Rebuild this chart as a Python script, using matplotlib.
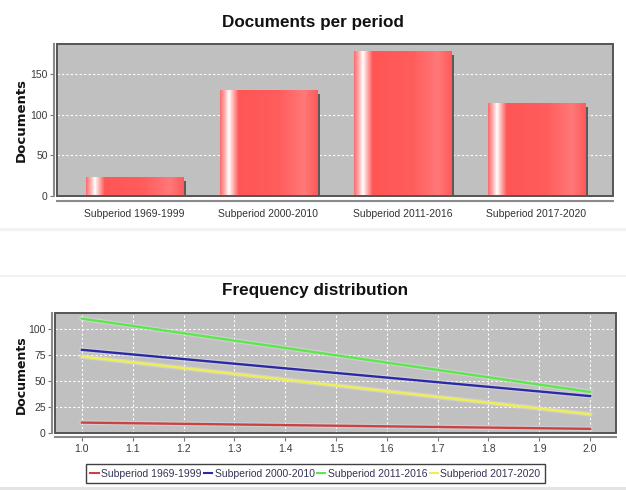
import numpy as np
import matplotlib
matplotlib.use('Agg')
import matplotlib.pyplot as plt
import matplotlib.transforms as mtransforms
import matplotlib.patheffects as pe
from matplotlib import font_manager as fm
from matplotlib.colors import LinearSegmentedColormap
from matplotlib.patches import Rectangle
from matplotlib.lines import Line2D

# ---------------- data ----------------
periods = ["Subperiod 1969-1999", "Subperiod 2000-2010",
           "Subperiod 2011-2016", "Subperiod 2017-2020"]
documents = [23, 131, 179, 114]
bar_yticks = [0, 50, 100, 150]

freq_x = [1.0, 2.0]
freq_1969_1999 = [10, 4]
freq_2000_2010 = [80, 35.5]
freq_2011_2016 = [110, 39.5]
freq_2017_2020 = [73.5, 18]
line_series = [freq_1969_1999, freq_2000_2010, freq_2011_2016, freq_2017_2020]
line_colors = ['#c84444', '#2a2aa8', '#5ce84c', '#eeee55']
line_xticks = [1.0, 1.1, 1.2, 1.3, 1.4, 1.5, 1.6, 1.7, 1.8, 1.9, 2.0]
line_yticks = [0, 25, 50, 75, 100]

# ---------------- fonts ----------------
names = {f.name for f in fm.fontManager.ttflist}
if 'Liberation Sans Narrow' in names:
    NARROW = 'Liberation Sans Narrow'
    tick_fs, title_fs = 9, 15
else:
    NARROW = 'Liberation Sans'
    tick_fs, title_fs = 7.5, 12.3

W, H = 626, 490
fig = plt.figure(figsize=(W / 100, H / 100), dpi=100)
fig.patch.set_facecolor('white')


def fx(px):
    return px / W


def fy(py):
    return 1 - py / H


def px2pt(p):
    return p * 72 / 100


# separators / background strips
fig.add_artist(Line2D([0, 1], [fy(229), fy(229)], transform=fig.transFigure,
                      color='#f2f2f2', lw=2))
fig.add_artist(Line2D([0, 1], [fy(276), fy(276)], transform=fig.transFigure,
                      color='#f0f0f0', lw=1.2))
fig.add_artist(Rectangle((0, 0), 1, 3.5 / H, transform=fig.transFigure,
                         color='#e4e4e4', lw=0))

# ---------------- top: bar chart ----------------
ax1 = fig.add_axes([fx(57), fy(196), (613 - 57) / W, (196 - 44) / H])
ax1.set_facecolor('#c0c0c0')
xpos = np.arange(len(periods))
bw = 0.724

shadow = ax1.bar(xpos, documents, width=bw, color='#5a5a5a', zorder=2)
off = mtransforms.ScaledTranslation(3 / 100, -4 / 100, fig.dpi_scale_trans)
for p in shadow:
    p.set_transform(ax1.transData + off)

bars = ax1.bar(xpos, documents, width=bw, color='#ff5a5a', zorder=3)
cmap = LinearSegmentedColormap.from_list('barg', [
    (0.0, '#ff6a6a'), (0.05, '#ffb4b4'), (0.09, '#ffffff'), (0.13, '#ffb8b8'),
    (0.19, '#ff5555'), (0.6, '#ff5d5d'), (0.86, '#ff7878'), (1.0, '#ff5a5a')])
grad = np.linspace(0, 1, 256).reshape(1, -1)
for b in bars:
    x0, y0, w, h = b.get_x(), b.get_y(), b.get_width(), b.get_height()
    im = ax1.imshow(grad, extent=(x0, x0 + w, y0, y0 + h), aspect='auto',
                    cmap=cmap, zorder=4, interpolation='bilinear')
    im.set_clip_path(b)

ax1.set_xlim((57 - 134.5) / 134, (613 - 134.5) / 134)
ax1.set_ylim(0, 187)
ax1.set_xticks(xpos, periods)
ax1.set_yticks(bar_yticks)
ax1.set_axisbelow(True)
ax1.yaxis.grid(True, color='white', linestyle=(0, (2, 2)), lw=0.8)
ax1.xaxis.grid(False)

# ---------------- bottom: line chart ----------------
ax2 = fig.add_axes([fx(55), fy(433), (616 - 55) / W, (433 - 313) / H])
ax2.set_facecolor('#c0c0c0')
handles = []
for s, c, lab in zip(line_series, line_colors, periods):
    ln, = ax2.plot(freq_x, s, color=c, lw=1.7, zorder=3, label=lab,
                   path_effects=[pe.Stroke(linewidth=3.4, foreground='#e2e2e2', alpha=0.45),
                                 pe.Normal()])
    handles.append(ln)
ax2.set_xlim(0.947, 2.051)
ax2.set_ylim(0, 115.4)
ax2.set_xticks(line_xticks, [f"{v:.1f}" for v in line_xticks])
ax2.set_yticks(line_yticks)
ax2.set_axisbelow(True)
ax2.grid(True, color='white', linestyle=(0, (2, 2)), lw=0.8)

# ---------------- common styling ----------------
for ax, boff in ((ax1, 4.5), (ax2, 4)):
    for s in ('top', 'right'):
        ax.spines[s].set_visible(False)
    ax.spines['left'].set_position(('outward', px2pt(3)))
    ax.spines['bottom'].set_position(('outward', px2pt(boff)))
    for s in ('left', 'bottom'):
        ax.spines[s].set_color('#8a8a8a')
        ax.spines[s].set_linewidth(1.5)
    ax.add_patch(Rectangle((0, 0), 1, 1, transform=ax.transAxes, fill=False,
                           ec='#555555', lw=1.4, zorder=6, clip_on=False))
    ax.tick_params(axis='y', length=3, width=0.8, pad=1.5, color='#777777',
                   labelcolor='#3a3a3a', labelsize=tick_fs)
    for t in ax.get_yticklabels() + ax.get_xticklabels():
        t.set_fontfamily(NARROW)

ax1.tick_params(axis='x', length=0, pad=6, labelcolor='#333333', labelsize=tick_fs)
ax2.tick_params(axis='x', length=3, width=0.8, pad=2, color='#777777',
                labelcolor='#3a3a3a', labelsize=tick_fs)
for t in ax1.get_xticklabels() + ax2.get_xticklabels():
    t.set_fontfamily(NARROW)

# titles and axis labels
fig.text(fx(313), fy(22), "Documents per period", ha='center', va='center',
         fontsize=title_fs, fontweight='bold', family=NARROW, color='#111111')
fig.text(fx(315), fy(291), "Frequency distribution", ha='center', va='center',
         fontsize=title_fs, fontweight='bold', family=NARROW, color='#111111')
fig.text(fx(21), fy(120), "Documents", rotation=90, ha='center', va='center',
         fontsize=9.5, fontweight='bold', family='DejaVu Sans', color='#111111')
fig.text(fx(21), fy(375), "Documents", rotation=90, ha='center', va='center',
         fontsize=9, fontweight='bold', family='DejaVu Sans', color='#111111')

leg = fig.legend(handles, periods, loc='center',
                 bbox_to_anchor=(fx(315.5), fy(473.5)), ncol=4, frameon=True,
                 fancybox=False, edgecolor='#404040', framealpha=1,
                 handlelength=0.8, handletextpad=0.25, columnspacing=0.2,
                 borderpad=0.45, borderaxespad=0,
                 prop={'family': NARROW, 'size': tick_fs})
leg.get_frame().set_linewidth(1.0)
for t in leg.get_texts():
    t.set_color('#333355')
for lh in leg.legend_handles:
    lh.set_path_effects([])
    lh.set_linewidth(1.5)

fig.savefig('out.png', dpi=100)
